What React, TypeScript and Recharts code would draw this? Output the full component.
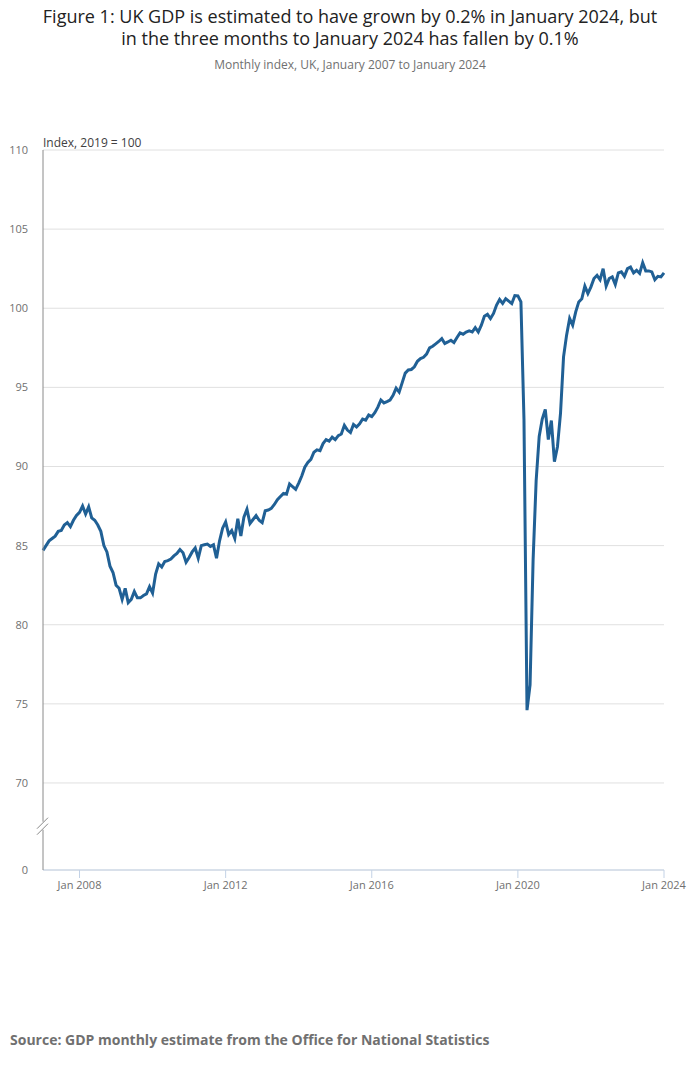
import { CartesianGrid, Line, LineChart, ReferenceDot, XAxis, YAxis } from 'recharts'

// monthly GDP index, 2019 = 100
const monthNames = ['Jan', 'Feb', 'Mar', 'Apr', 'May', 'Jun', 'Jul', 'Aug', 'Sep', 'Oct', 'Nov', 'Dec']
const years = [2007, 2008, 2009, 2010, 2011, 2012, 2013, 2014, 2015, 2016, 2017, 2018, 2019, 2020, 2021, 2022, 2023, 2024]

const index2007 = [84.7, 85.0, 85.3, 85.45, 85.6, 85.9, 85.95, 86.3, 86.45, 86.2, 86.6, 86.9]
const index2008 = [87.1, 87.5, 87.0, 87.45, 86.75, 86.6, 86.3, 85.9, 85.0, 84.6, 83.7, 83.3]
const index2009 = [82.5, 82.3, 81.6, 82.3, 81.4, 81.6, 82.1, 81.7, 81.7, 81.85, 81.95, 82.4]
const index2010 = [82.0, 83.2, 83.85, 83.65, 84.0, 84.05, 84.15, 84.35, 84.5, 84.75, 84.55, 83.95]
const index2011 = [84.25, 84.6, 84.85, 84.2, 85.0, 85.05, 85.1, 84.95, 85.05, 84.2, 85.3, 86.1]
const index2012 = [86.5, 85.7, 85.95, 85.45, 86.7, 85.6, 86.8, 87.3, 86.4, 86.65, 86.9, 86.6]
const index2013 = [86.45, 87.2, 87.25, 87.35, 87.6, 87.9, 88.1, 88.3, 88.25, 88.9, 88.72, 88.55]
const index2014 = [88.95, 89.4, 89.95, 90.25, 90.45, 90.9, 91.05, 91.0, 91.45, 91.7, 91.6, 91.85]
const index2015 = [91.7, 91.95, 92.05, 92.6, 92.3, 92.15, 92.65, 92.5, 92.7, 93.0, 92.93, 93.25]
const index2016 = [93.15, 93.4, 93.75, 94.2, 94.02, 94.1, 94.2, 94.5, 94.95, 94.7, 95.3, 95.9]
const index2017 = [96.1, 96.13, 96.3, 96.65, 96.82, 96.9, 97.1, 97.5, 97.6, 97.75, 97.9, 98.08]
const index2018 = [97.77, 97.87, 97.98, 97.83, 98.15, 98.44, 98.36, 98.5, 98.57, 98.5, 98.78, 98.5]
const index2019 = [98.93, 99.5, 99.62, 99.35, 99.67, 100.2, 100.55, 100.3, 100.6, 100.45, 100.3, 100.8]
const index2020 = [100.78, 100.4, 93.0, 74.6, 76.2, 84.1, 89.1, 91.9, 93.0, 93.6, 91.7, 92.9]
const index2021 = [90.3, 91.25, 93.35, 96.93, 98.3, 99.35, 98.93, 99.77, 100.4, 100.6, 101.4, 100.93]
const index2022 = [101.35, 101.88, 102.08, 101.8, 102.5, 101.4, 101.88, 101.98, 101.5, 102.23, 102.3, 102.02]
const index2023 = [102.5, 102.6, 102.23, 102.4, 102.2, 102.87, 102.36, 102.36, 102.3, 101.8, 102.02, 101.98]
const index2024 = [102.23]

const yearlyIndex = [
  index2007, index2008, index2009, index2010, index2011, index2012, index2013, index2014, index2015,
  index2016, index2017, index2018, index2019, index2020, index2021, index2022, index2023, index2024,
]

// bottom of the broken axis is labelled 0
const axisFloor = 64.5
const breakAt = 67.3
const yTicks = [axisFloor, 70, 75, 80, 85, 90, 95, 100, 105, 110]
const xTickLabels = ['Jan 2008', 'Jan 2012', 'Jan 2016', 'Jan 2020', 'Jan 2024']

const data = years.flatMap((year, yi) =>
  yearlyIndex[yi].map((gdp, mi) => ({ label: `${monthNames[mi]} ${year}`, gdp })),
).map((d, i) => ({ ...d, m: i }))

const xTicks = data.filter((d) => xTickLabels.includes(d.label)).map((d) => d.m)

function BreakMark({ cx, cy }: { cx?: number; cy?: number }) {
  if (cx == null || cy == null) return null
  return (
    <g>
      <rect x={cx - 2} y={cy - 4} width={4} height={8} fill="#fff" />
      <line x1={cx - 6} y1={cy + 3} x2={cx + 5} y2={cy - 8} stroke="#888" strokeWidth={1} />
      <line x1={cx - 6} y1={cy + 9} x2={cx + 5} y2={cy - 2} stroke="#888" strokeWidth={1} />
    </g>
  )
}

export default function App() {
  return (
    <div
      style={{
        position: 'absolute',
        left: 0,
        top: 0,
        width: 700,
        height: 1067,
        background: '#fff',
        fontFamily: '"Open Sans", sans-serif',
      }}
    >
      <div
        style={{
          position: 'absolute',
          top: 5,
          left: 0,
          width: 700,
          textAlign: 'center',
          fontSize: 18,
          lineHeight: '22px',
          color: '#222',
        }}
      >
        Figure 1: UK GDP is estimated to have grown by 0.2% in January 2024, but
        <br />
        in the three months to January 2024 has fallen by 0.1%
      </div>
      <div
        style={{
          position: 'absolute',
          top: 56,
          left: 0,
          width: 700,
          textAlign: 'center',
          fontSize: 12,
          color: '#707070',
        }}
      >
        Monthly index, UK, January 2007 to January 2024
      </div>
      <div style={{ position: 'absolute', top: 134, left: 43, fontSize: 12, color: '#414042' }}>
        Index, 2019 = 100
      </div>

      <div style={{ position: 'absolute', top: 0, left: 0 }}>
        <LineChart width={700} height={920} data={data} margin={{ top: 150, right: 36, left: 8, bottom: 20 }}>
          <CartesianGrid vertical={false} stroke="#e0e0e0" />
          <XAxis
            dataKey="m"
            type="number"
            domain={[0, data.length - 1]}
            ticks={xTicks}
            tickFormatter={(m: number) => data[m]?.label ?? ''}
            height={30}
            tickSize={8}
            tickMargin={3}
            axisLine={{ stroke: '#c3d2e6' }}
            tickLine={{ stroke: '#c3d2e6' }}
            tick={{ fill: '#707070', fontSize: 11 }}
          />
          <YAxis
            type="number"
            domain={[axisFloor, 110]}
            ticks={yTicks}
            tickFormatter={(v: number) => (v === axisFloor ? '0' : String(v))}
            width={35}
            tickSize={0}
            tickMargin={15}
            axisLine={{ stroke: '#8a8a8a' }}
            tickLine={false}
            tick={{ fill: '#707070', fontSize: 11 }}
            allowDataOverflow
          />
          <Line
            type="linear"
            dataKey="gdp"
            stroke="#206095"
            strokeWidth={3}
            dot={false}
            isAnimationActive={false}
          />
          <ReferenceDot x={0} y={breakAt} r={0} ifOverflow="visible" shape={(p: any) => <BreakMark {...p} />} />
        </LineChart>
      </div>

      <div
        style={{
          position: 'absolute',
          top: 1030,
          left: 10,
          fontSize: 14,
          fontWeight: 700,
          color: '#707070',
        }}
      >
        Source: GDP monthly estimate from the Office for National Statistics
      </div>
    </div>
  )
}
